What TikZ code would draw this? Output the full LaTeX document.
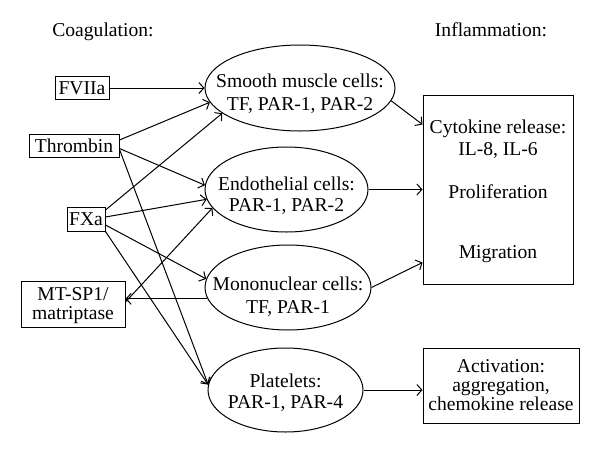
\documentclass[tikz,border=0pt]{standalone}
\usepackage{fontspec}
\setmainfont{Liberation Serif}
\usetikzlibrary{arrows.meta,shapes.geometric}
\begin{document}
\begin{tikzpicture}[x=1pt,y=-1pt,
  every node/.style={font=\fontsize{19.6}{22}\selectfont},
  box/.style={draw,line width=1pt,rectangle,inner sep=0pt,align=center},
  cell/.style={draw,line width=1pt,ellipse,inner sep=0pt},
  arr/.style={line width=1pt,-{Straight Barb[length=5pt,width=11pt,line width=1pt]}},
  txt/.style={inner sep=0pt,anchor=base}]
\useasboundingbox (0,0) rectangle (600,453);
% headers
\node[txt] (coag) at (103,36) {Coagulation:};
\node[txt] (infl) at (491,36) {Inflammation:};
% left boxes
\node[box,minimum width=54pt,minimum height=23pt] (fvii) at (82,88) {FVIIa};
\node[box,minimum width=90pt,minimum height=23pt] (thr) at (74,145.5) {Thrombin};
\node[box,minimum width=38pt,minimum height=24pt] (fxa) at (86,219) {FXa};
\node[box,minimum width=104pt,minimum height=46pt] (mt) at (73,304) {};
\node[txt] (mt1) at (73,300) {MT-SP1/};
\node[txt] (mt2) at (73,319) {matriptase};
% ellipses
\node[cell,minimum width=190pt,minimum height=86pt] (sm) at (300,88) {};
\node[txt] (sm1) at (300,87) {Smooth muscle cells:};
\node[txt] (sm2) at (300,110) {TF, PAR-1, PAR-2};
\node[cell,minimum width=163pt,minimum height=85pt] (en) at (286.5,189.5) {};
\node[txt] (en1) at (286.5,190) {Endothelial cells:};
\node[txt] (en2) at (286.5,211) {PAR-1, PAR-2};
\node[cell,minimum width=166pt,minimum height=85pt] (mn) at (288,287.5) {};
\node[txt] (mn1) at (288,290) {Mononuclear cells:};
\node[txt] (mn2) at (288,313) {TF, PAR-1};
\node[cell,minimum width=155pt,minimum height=84pt] (pl) at (285.5,390) {};
\node[txt] (pl1) at (285.5,387) {Platelets:};
\node[txt] (pl2) at (285.5,408) {PAR-1, PAR-4};
% right boxes
\node[box,minimum width=150pt,minimum height=189pt] (ib) at (498,189.5) {};
\node[txt] (ib1) at (498,133) {Cytokine release:};
\node[txt] (ib2) at (498,155) {IL-8, IL-6};
\node[txt] (ib3) at (498,198) {Proliferation};
\node[txt] (ib4) at (498,258) {Migration};
\node[box,minimum width=156pt,minimum height=75pt] (ab) at (501,385.5) {};
\node[txt] (ab1) at (501,372) {Activation:};
\node[txt] (ab2) at (501,391) {aggregation,};
\node[txt] (ab3) at (501,410) {chemokine release};
% left arrows
\draw[arr] (fvii.east) -- (sm.west);
\draw[arr] ([yshift=5.5pt]thr.east) -- (sm.189);
\draw[arr] ([yshift=-3pt]thr.east) -- (en.177);
\draw[arr] ([yshift=-4pt]thr.east) -- (pl.176);
\draw[arr] ([yshift=9pt]fxa.east) -- (sm.198);
\draw[arr] ([yshift=2pt]fxa.east) -- (en.187);
\draw[arr] ([yshift=-6pt]fxa.east) -- (mn.174);
\draw[arr] (fxa.south east) -- (pl.176);
\coordinate (mtp) at ([yshift=2pt]mt.east);
\draw[arr] (mn.188) -- (mn.188 -| mtp);
\draw[arr] (mtp) -- (en.194);
% right arrows
\draw[arr] (sm.352) -- ([yshift=-30pt]ib.north west);
\draw[arr] (en.east) -- (en.east -| ib.west);
\draw[arr] (mn.east) -- ([yshift=22pt]ib.south west);
\draw[arr] (pl.east) -- (pl.east -| ab.west);
\end{tikzpicture}
\end{document}
